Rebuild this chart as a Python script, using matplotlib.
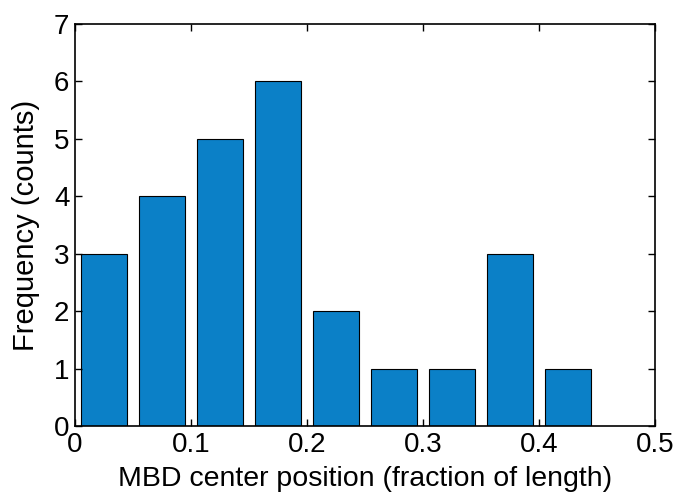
import matplotlib
matplotlib.use("Agg")
import matplotlib.pyplot as plt

plt.rcParams['font.family'] = ['Liberation Sans', 'DejaVu Sans']

bin_centers = [0.025, 0.075, 0.125, 0.175, 0.225, 0.275, 0.325, 0.375, 0.425]
counts = [3, 4, 5, 6, 2, 1, 1, 3, 1]
xticks = [0, 0.1, 0.2, 0.3, 0.4, 0.5]
xticklabels = ['0', '0.1', '0.2', '0.3', '0.4', '0.5']
yticks = [0, 1, 2, 3, 4, 5, 6, 7]

fig = plt.figure(figsize=(6.77, 4.96), dpi=100)
ax = fig.add_axes([75/677, 1-426/496, 580/677, 402/496])
ax.bar(bin_centers, counts, width=0.04, color='#0b80c7', edgecolor='black', linewidth=0.8)
ax.set_xlim(0, 0.5)
ax.set_ylim(0, 7)
ax.set_xticks(xticks)
ax.set_xticklabels(xticklabels)
ax.set_yticks(yticks)
ax.tick_params(direction='in', top=True, right=True, labelsize=20, length=5, width=1, pad=4)
for s in ax.spines.values():
    s.set_linewidth(1.2)
ax.set_xlabel('MBD center position (fraction of length)', fontsize=20.5, labelpad=6)
ax.set_ylabel('Frequency (counts)', fontsize=21, labelpad=10)
fig.savefig('out.png', dpi=100)
